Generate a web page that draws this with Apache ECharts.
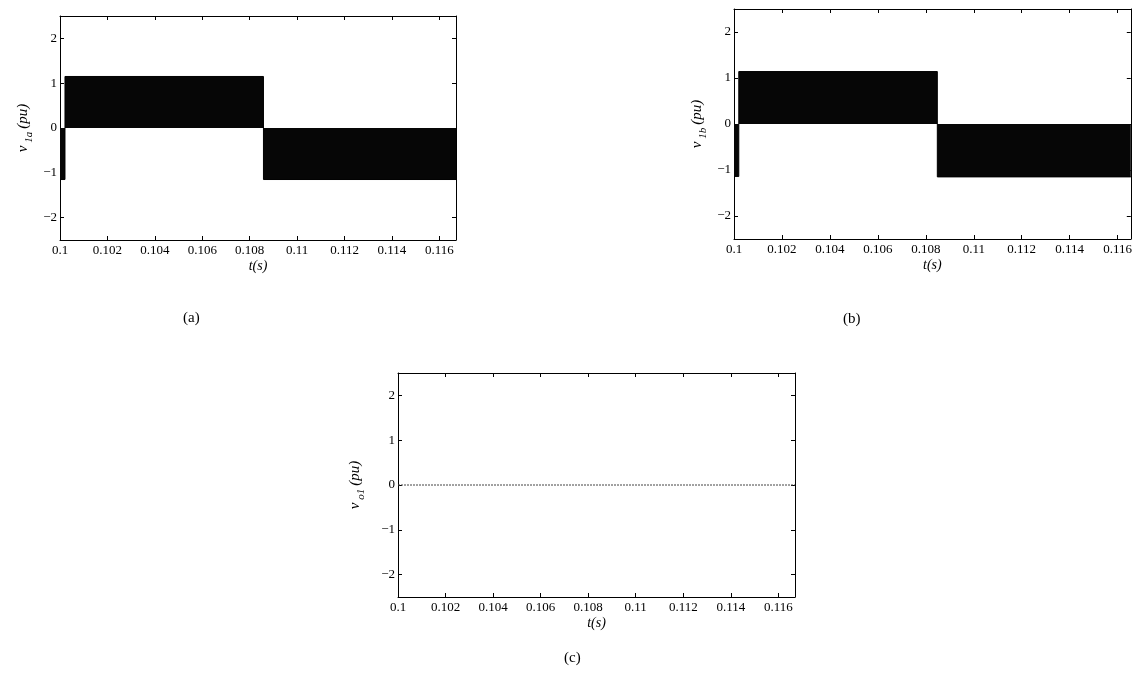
<!DOCTYPE html>
<html>
<head>
<meta charset="utf-8">
<script src="https://cdn.jsdelivr.net/npm/echarts@6/dist/echarts.min.js"></script>
<style>
html,body{margin:0;padding:0;background:#fff;}
#c{width:1135px;height:688px;}
</style>
</head>
<body>
<div id="c"></div>
<script>
// ---- data ----
// x-tick labels (time, s)
const xTicks = [0.1, 0.102, 0.104, 0.106, 0.108, 0.11, 0.112, 0.114, 0.116];
const yTicks = [-2, -1, 0, 1, 2];
// PWM envelope of v_1a: value held from each time until the next (step)
const tA = [0.1, 0.10021, 0.10858, 0.1167];
const vA = [-1.15, 1.15, -1.15, -1.15];
// PWM envelope of v_1b
const tB = [0.1, 0.10020, 0.10848, 0.11655];
const vB = [-1.14, 1.14, -1.15, -1.15];
// v_o1 output (flat zero)
const tC = [0.1, 0.1167];
const vC = [0, 0];

const xMaxA = 0.1167, xMaxB = 0.11655, xMaxC = 0.1167;

const FONT = 'Liberation Serif';
const zip = (t, v) => t.map((x, i) => [x, v[i]]);
const fmtX = v => String(+(+v).toFixed(4));
const fmtY = v => (v < 0 ? '\u2212' + Math.abs(v) : String(v));

function axesFor(gi, xmax, sub, nameGap) {
  const xBottom = {
    type: 'value', gridIndex: gi, min: 0.1, max: xmax, position: 'bottom',
    axisLine: {show: true, onZero: false, lineStyle: {color: '#000', width: 1}},
    axisTick: {show: true, inside: true, length: 4, customValues: xTicks, lineStyle: {color: '#000'}},
    axisLabel: {show: true, customValues: xTicks, formatter: fmtX, margin: 4,
      fontFamily: FONT, fontSize: 13, color: '#000'},
    splitLine: {show: false},
    name: 't(s)', nameLocation: 'middle', nameGap: 19,
    nameTextStyle: {fontFamily: FONT, fontSize: 14, fontStyle: 'italic', color: '#000'}
  };
  const xTop = {
    type: 'value', gridIndex: gi, min: 0.1, max: xmax, position: 'top',
    axisLine: {show: true, onZero: false, lineStyle: {color: '#000', width: 1}},
    axisTick: {show: true, inside: true, length: 4, customValues: xTicks, lineStyle: {color: '#000'}},
    axisLabel: {show: false}, splitLine: {show: false}
  };
  const yLeft = {
    type: 'value', gridIndex: gi, min: -2.5, max: 2.5, position: 'left',
    axisLine: {show: true, onZero: false, lineStyle: {color: '#000', width: 1}},
    axisTick: {show: true, inside: true, length: 4, customValues: yTicks, lineStyle: {color: '#000'}},
    axisLabel: {show: true, customValues: yTicks, formatter: fmtY, margin: 3,
      fontFamily: FONT, fontSize: 13, color: '#000'},
    splitLine: {show: false},
    name: '{i|v}{s| ' + sub + '} {i|(pu)}', nameLocation: 'middle', nameGap: nameGap,
    nameTextStyle: {
      fontFamily: FONT, color: '#000',
      rich: {
        i: {fontFamily: FONT, fontSize: 15, fontStyle: 'italic', color: '#000', lineHeight: 24, verticalAlign: 'middle'},
        s: {fontFamily: FONT, fontSize: 11, fontStyle: 'italic', color: '#000', lineHeight: 24, verticalAlign: 'bottom'}
      }
    }
  };
  const yRight = {
    type: 'value', gridIndex: gi, min: -2.5, max: 2.5, position: 'right',
    axisLine: {show: true, onZero: false, lineStyle: {color: '#000', width: 1}},
    axisTick: {show: true, inside: true, length: 4, customValues: yTicks, lineStyle: {color: '#000'}},
    axisLabel: {show: false}, splitLine: {show: false}
  };
  return {x: [xBottom, xTop], y: [yLeft, yRight]};
}

const A = axesFor(0, xMaxA, '1a', 25);
const B = axesFor(1, xMaxB, '1b', 25);
const C = axesFor(2, xMaxC, 'o1', 31);

const chart = echarts.init(document.getElementById('c'), null, {renderer: 'canvas'});
chart.setOption({
  animation: false,
  backgroundColor: '#fff',
  grid: [
    {left: 60, top: 16, width: 396, height: 224},
    {left: 734, top: 9, width: 398, height: 230},
    {left: 398, top: 373, width: 397, height: 224}
  ],
  xAxis: [].concat(A.x, B.x, C.x),
  yAxis: [].concat(A.y, B.y, C.y),
  series: [
    {type: 'line', xAxisIndex: 0, yAxisIndex: 0, data: zip(tA, vA), step: 'end',
      symbol: 'none', lineStyle: {color: '#000', width: 1},
      areaStyle: {color: '#060606', opacity: 1}},
    {type: 'line', xAxisIndex: 2, yAxisIndex: 2, data: zip(tB, vB), step: 'end',
      symbol: 'none', lineStyle: {color: '#000', width: 1},
      areaStyle: {color: '#060606', opacity: 1}},
    {type: 'line', xAxisIndex: 4, yAxisIndex: 4, data: zip(tC, vC),
      symbol: 'none', lineStyle: {color: '#444', width: 1, type: [2, 1]}}
  ],
  graphic: [
    {type: 'text', left: 183, top: 311, style: {text: '(a)', fontFamily: FONT, fontSize: 15, fill: '#000'}},
    {type: 'text', left: 843, top: 312, style: {text: '(b)', fontFamily: FONT, fontSize: 15, fill: '#000'}},
    {type: 'text', left: 564, top: 651, style: {text: '(c)', fontFamily: FONT, fontSize: 15, fill: '#000'}}
  ]
});
</script>
</body>
</html>
